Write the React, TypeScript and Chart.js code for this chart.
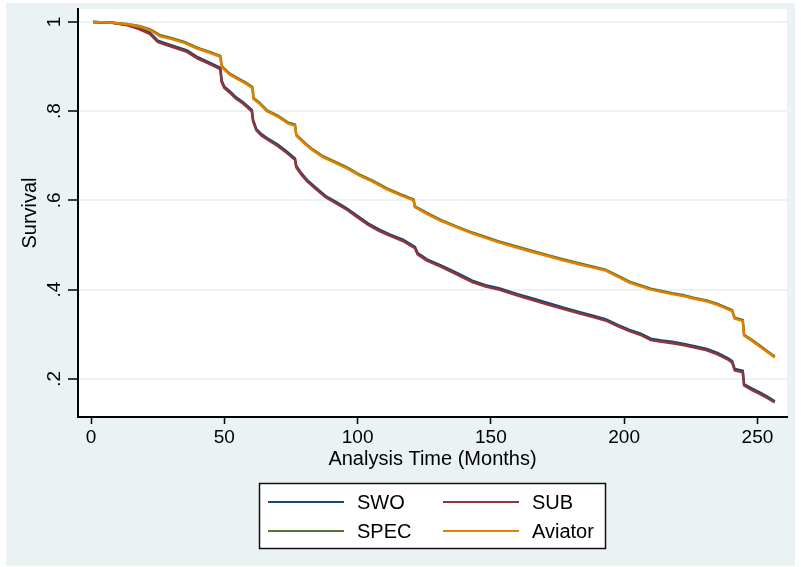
import { useEffect, useRef } from "react";
import { Chart, registerables } from "chart.js";

Chart.register(...registerables);

const seriesNames = ["SWO", "SUB", "SPEC", "Aviator"];
const seriesColors = ["#1a476f", "#90353b", "#55752f", "#e37e00"];

const xTicks = [0, 50, 100, 150, 200, 250];
const yTicks = [0.2, 0.4, 0.6, 0.8, 1];
const yTickLabels = [".2", ".4", ".6", ".8", "1"];
const xTitle = "Analysis Time (Months)";
const yTitle = "Survival";

// SWO / SUB share event times
const swoTimes = [
  0.8, 8, 14, 18, 22, 25, 28, 32, 36, 40, 44, 48.5, 49, 50, 52, 54, 57, 60.3, 60.8, 62,
  64, 66, 70, 73.5, 76.5, 77, 79, 81, 84, 88, 92, 96, 100, 104, 108, 112, 117, 121.5,
  122.5, 126, 131, 137, 143, 148, 153, 160, 166, 171, 177, 183, 188, 193, 198, 202,
  206, 210, 214, 218, 222, 226, 231, 235, 239, 240.5, 241.5, 244.5, 245, 248, 251,
  254, 256.5,
];
const swoSurv = [
  1.0, 0.998, 0.993, 0.986, 0.976, 0.958, 0.952, 0.944, 0.936, 0.921, 0.91, 0.897,
  0.868, 0.855, 0.845, 0.833, 0.82, 0.803, 0.78, 0.76, 0.748, 0.74, 0.725, 0.709,
  0.694, 0.677, 0.66, 0.646, 0.63, 0.61, 0.596, 0.582, 0.565, 0.548, 0.535, 0.524,
  0.512, 0.496, 0.482, 0.468, 0.455, 0.438, 0.42, 0.41, 0.403, 0.39, 0.38, 0.371,
  0.36, 0.35, 0.342, 0.334, 0.32, 0.31, 0.302, 0.29, 0.286, 0.283, 0.279, 0.274,
  0.267, 0.258, 0.246, 0.24, 0.222, 0.218, 0.188, 0.178, 0.169, 0.159, 0.15,
];
const subSurv = [
  1.0, 0.998, 0.992, 0.984, 0.973, 0.955, 0.949, 0.941, 0.933, 0.918, 0.907, 0.894,
  0.865, 0.852, 0.842, 0.83, 0.817, 0.8, 0.777, 0.757, 0.745, 0.737, 0.722, 0.706,
  0.691, 0.674, 0.657, 0.643, 0.627, 0.607, 0.593, 0.579, 0.562, 0.545, 0.532, 0.521,
  0.509, 0.493, 0.479, 0.465, 0.452, 0.435, 0.417, 0.407, 0.4, 0.387, 0.376, 0.367,
  0.357, 0.347, 0.339, 0.331, 0.317, 0.307, 0.299, 0.287, 0.283, 0.28, 0.276, 0.271,
  0.264, 0.255, 0.243, 0.237, 0.219, 0.215, 0.185, 0.175, 0.166, 0.156, 0.147,
];

// SPEC / Aviator share event times
const avTimes = [
  0.8, 8, 14, 18, 22, 26, 30, 35, 40, 44, 48.5, 49, 50, 52, 55, 58, 60.5, 61, 63, 66,
  70, 74, 76.5, 77, 80, 83, 87, 91, 96, 101, 106, 111, 116, 121, 121.5, 126, 131, 137,
  143, 148, 153, 160, 166, 171, 177, 183, 188, 193, 197, 202, 206, 210, 214, 218,
  222, 226, 231, 235, 239, 240.5, 241.5, 244.5, 245, 248, 251, 254, 256.5,
];
const specSurv = [
  1.0, 0.998, 0.995, 0.991, 0.984, 0.97, 0.964, 0.955, 0.942, 0.934, 0.924, 0.902,
  0.895, 0.884, 0.874, 0.864, 0.854, 0.829, 0.82, 0.802, 0.79, 0.774, 0.77, 0.747,
  0.73, 0.715, 0.699, 0.688, 0.674, 0.657, 0.643, 0.627, 0.614, 0.602, 0.587, 0.572,
  0.557, 0.542, 0.528, 0.518, 0.508, 0.496, 0.486, 0.478, 0.468, 0.459, 0.452, 0.445,
  0.433, 0.418, 0.41, 0.402, 0.397, 0.392, 0.388, 0.382, 0.376, 0.368, 0.358, 0.354,
  0.337, 0.332, 0.299, 0.287, 0.274, 0.261, 0.25,
];
const aviatorSurv = [
  1.0, 0.998, 0.995, 0.99, 0.982, 0.968, 0.962, 0.953, 0.94, 0.932, 0.922, 0.9,
  0.893, 0.882, 0.872, 0.862, 0.852, 0.827, 0.818, 0.8, 0.788, 0.772, 0.768, 0.745,
  0.728, 0.713, 0.697, 0.686, 0.672, 0.655, 0.641, 0.625, 0.612, 0.6, 0.585, 0.57,
  0.555, 0.54, 0.526, 0.516, 0.506, 0.494, 0.484, 0.476, 0.466, 0.457, 0.45, 0.443,
  0.431, 0.416, 0.408, 0.4, 0.395, 0.39, 0.386, 0.38, 0.374, 0.366, 0.356, 0.352,
  0.335, 0.33, 0.297, 0.285, 0.272, 0.259, 0.248,
];

const FONT = "'Liberation Sans', Arial, sans-serif";
const PANEL_BG = "#eaf2f3";

const toPoints = (ts: number[], vs: number[]) => ts.map((t, i) => ({ x: t, y: vs[i] }));

const backgroundPlugin = {
  id: "stataBackground",
  beforeDraw(chart: any) {
    const { ctx, chartArea } = chart;
    ctx.save();
    ctx.fillStyle = "#ffffff";
    ctx.fillRect(0, 0, chart.width, chart.height);
    ctx.fillStyle = PANEL_BG;
    ctx.fillRect(6, 3, 789, 563);
    ctx.fillStyle = "#ffffff";
    ctx.fillRect(chartArea.left, chartArea.top, chartArea.right - chartArea.left, chartArea.bottom - chartArea.top);
    ctx.restore();
  },
};

const legendPlugin = {
  id: "boxLegend",
  afterDraw(chart: any) {
    const { ctx } = chart;
    ctx.save();
    ctx.fillStyle = "#ffffff";
    ctx.fillRect(259, 483, 347, 66);
    ctx.strokeStyle = "#111";
    ctx.lineWidth = 1.5;
    ctx.strokeRect(259.5, 483.5, 346, 65);
    const cols = [268, 443];
    const rows = [502, 531];
    chart.data.datasets.forEach((ds: any, i: number) => {
      const cx = cols[i % 2];
      const cy = rows[Math.floor(i / 2)];
      ctx.strokeStyle = ds.borderColor;
      ctx.lineWidth = 2;
      ctx.beginPath();
      ctx.moveTo(cx, cy);
      ctx.lineTo(cx + 76, cy);
      ctx.stroke();
      ctx.fillStyle = "#000";
      ctx.font = `20px ${FONT}`;
      ctx.textBaseline = "middle";
      ctx.textAlign = "left";
      ctx.fillText(ds.label, cx + 89, cy + 1);
    });
    ctx.restore();
  },
};

export default function App() {
  const canvasRef = useRef<HTMLCanvasElement | null>(null);

  useEffect(() => {
    if (!canvasRef.current) return;
    const series = [
      toPoints(swoTimes, swoSurv),
      toPoints(swoTimes, subSurv),
      toPoints(avTimes, specSurv),
      toPoints(avTimes, aviatorSurv),
    ];
    const chart = new Chart(canvasRef.current, {
      type: "line",
      data: {
        datasets: seriesNames.map((name, i) => ({
          label: name,
          data: series[i],
          borderColor: seriesColors[i],
          backgroundColor: seriesColors[i],
          borderWidth: 2.5,
          pointRadius: 0,
          tension: 0,
          fill: false,
          order: 4 - i,
        })),
      },
      options: {
        responsive: false,
        animation: false,
        devicePixelRatio: 1,
        layout: { padding: { left: 0, top: 9, right: 14, bottom: 90 } },
        plugins: { legend: { display: false }, tooltip: { enabled: false } },
        scales: {
          x: {
            type: "linear",
            min: -4.9,
            max: 261.1,
            afterBuildTicks: (scale: any) => {
              scale.ticks = xTicks.map((v) => ({ value: v }));
            },
            afterFit: (scale: any) => {
              scale.height = 60;
              scale.paddingLeft = 0;
              scale.paddingRight = 0;
            },
            grid: {
              drawOnChartArea: false,
              drawTicks: true,
              tickLength: 7,
              tickColor: "#000",
              tickWidth: 1.5,
            },
            border: { display: true, color: "#000", width: 2 },
            ticks: {
              padding: 2,
              color: "#000",
              font: { family: FONT, size: 19 },
              maxRotation: 0,
              minRotation: 0,
              callback: (v: any) => String(v),
            },
            title: {
              display: true,
              text: xTitle,
              color: "#000",
              font: { family: FONT, size: 20 },
              padding: { top: 0, bottom: 6 },
            },
          },
          y: {
            type: "linear",
            min: 0.1146,
            max: 1.029,
            afterBuildTicks: (scale: any) => {
              scale.ticks = yTicks.map((v) => ({ value: v }));
            },
            afterFit: (scale: any) => {
              scale.width = 78;
              scale.paddingTop = 0;
              scale.paddingBottom = 0;
            },
            grid: {
              color: PANEL_BG,
              lineWidth: 2,
              drawTicks: true,
              tickLength: 10,
              tickColor: "#000",
              tickWidth: 1.5,
            },
            border: { display: true, color: "#000", width: 2 },
            ticks: {
              padding: 5,
              color: "#000",
              crossAlign: "center",
              minRotation: 90,
              maxRotation: 90,
              font: { family: FONT, size: 19 },
              callback: (v: any) => {
                const i = yTicks.findIndex((t) => Math.abs(t - Number(v)) < 1e-9);
                return i >= 0 ? yTickLabels[i] : "";
              },
            },
            title: {
              display: true,
              text: yTitle,
              color: "#000",
              font: { family: FONT, size: 20 },
              padding: { top: 18, bottom: 0 },
            },
          },
        },
      },
      plugins: [backgroundPlugin, legendPlugin],
    } as any);
    return () => chart.destroy();
  }, []);

  return (
    <div style={{ position: "absolute", left: 0, top: 0, width: 801, height: 567 }}>
      <canvas
        ref={canvasRef}
        width={801}
        height={567}
        style={{ display: "block", width: 801, height: 567 }}
      />
    </div>
  );
}
